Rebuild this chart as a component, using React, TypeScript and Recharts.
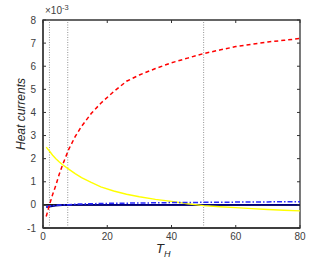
import { LineChart, Line, XAxis, YAxis, ReferenceLine, ReferenceArea } from 'recharts'

const tH = [1, 2, 3, 4, 5, 6, 8, 10, 12, 15, 18, 22, 26, 30, 35, 40, 45, 50, 55, 60, 65, 70, 75, 80]
const redCurrent = [-0.5, 0.0, 0.45, 0.85, 1.3, 1.7, 2.4, 2.95, 3.4, 3.95, 4.4, 4.9, 5.35, 5.62, 5.9, 6.15, 6.35, 6.55, 6.7, 6.85, 6.95, 7.05, 7.12, 7.2]
const yellowCurrent = [2.5, 2.33, 2.15, 2.0, 1.87, 1.75, 1.55, 1.35, 1.18, 0.97, 0.78, 0.6, 0.46, 0.35, 0.24, 0.15, 0.05, -0.03, -0.08, -0.12, -0.16, -0.2, -0.23, -0.26]
const blueCurrent = [-0.08, -0.05, -0.03, -0.02, -0.01, 0.0, 0.01, 0.03, 0.04, 0.05, 0.06, 0.07, 0.075, 0.08, 0.09, 0.1, 0.105, 0.11, 0.115, 0.12, 0.125, 0.13, 0.135, 0.14]
const navyCurrent = [-0.1, -0.07, -0.05, -0.03, -0.02, -0.01, 0, 0, 0, 0, 0, 0, 0, 0, 0, 0, 0, 0, 0, 0, 0, 0, 0, 0]
const xTicks = [0, 20, 40, 60, 80]
const yTicks = [-1, 0, 1, 2, 3, 4, 5, 6, 7, 8]
const markers = [2, 7.7, 50]

const data = tH.map((t, i) => ({
  t,
  red: redCurrent[i],
  yellow: yellowCurrent[i],
  blue: blueCurrent[i],
  navy: navyCurrent[i],
}))

const W = 332
const H = 261
const M = { top: 20, right: 32, left: 43, bottom: 33 }
const plotW = W - M.left - M.right
const plotH = H - M.top - M.bottom
const font = '"Liberation Sans", Arial, sans-serif'
const axisColor = '#333'

function XTick(props: any) {
  const { x, y, payload } = props
  return (
    <g>
      <line x1={x} y1={y} x2={x} y2={y - 3} stroke={axisColor} />
      <line x1={x} y1={y - plotH} x2={x} y2={y - plotH + 3} stroke={axisColor} />
      <text x={x} y={y + 12} textAnchor="middle" fontSize={10} fill="#404040" fontFamily={font}>
        {payload.value}
      </text>
    </g>
  )
}

function YTick(props: any) {
  const { x, y, payload } = props
  return (
    <g>
      <line x1={x} y1={y} x2={x + 3} y2={y} stroke={axisColor} />
      <line x1={x + plotW} y1={y} x2={x + plotW - 3} y2={y} stroke={axisColor} />
      <text x={x - 7} y={y + 3.5} textAnchor="end" fontSize={10} fill="#404040" fontFamily={font}>
        {payload.value}
      </text>
    </g>
  )
}

export default function App() {
  return (
    <div style={{ position: 'absolute', left: 0, top: 0, width: W, height: H, background: '#fff' }}>
      <LineChart width={W} height={H} data={data} margin={{ top: M.top, right: M.right, left: 0, bottom: 0 }}>
        <XAxis
          dataKey="t"
          type="number"
          domain={[0, 80]}
          ticks={xTicks}
          height={M.bottom}
          tickSize={0}
          tickMargin={0}
          tick={<XTick />}
          axisLine={{ stroke: axisColor, strokeWidth: 1.3 }}
        />
        <YAxis
          type="number"
          domain={[-1, 8]}
          ticks={yTicks}
          width={M.left}
          tickSize={0}
          tickMargin={0}
          tick={<YTick />}
          axisLine={{ stroke: axisColor, strokeWidth: 1.3 }}
        />
        <ReferenceArea x1={0} x2={80} y1={-1} y2={8} fill="none" stroke={axisColor} strokeWidth={1.3} />
        {markers.map((m) => (
          <ReferenceLine key={m} x={m} stroke="#777" strokeWidth={0.8} strokeDasharray="1 1.5" />
        ))}
        <ReferenceLine y={0} stroke="#1a1a1a" strokeWidth={1.8} />
        <Line dataKey="navy" stroke="#000080" strokeWidth={1.8} dot={false} isAnimationActive={false} />
        <Line dataKey="yellow" stroke="#ffff00" strokeWidth={1.4} dot={false} isAnimationActive={false} />
        <Line dataKey="blue" stroke="#2a2aff" strokeWidth={1.5} strokeDasharray="5 2 1.5 2" dot={false} isAnimationActive={false} />
        <Line dataKey="red" stroke="#ff0000" strokeWidth={1.5} strokeDasharray="4 3" dot={false} isAnimationActive={false} />
        <text x={45} y={14} fontSize={10} fill="#404040" fontFamily={font}>
          ×10<tspan dy={-4} fontSize={7.5}>-3</tspan>
        </text>
        <text
          x={25}
          y={114}
          transform="rotate(-90 25 114)"
          textAnchor="middle"
          fontSize={12}
          fontStyle="italic"
          fill="#262626"
          fontFamily={font}
        >
          Heat currents
        </text>
        <text x={156} y={253} fontSize={13} fontStyle="italic" fill="#262626" fontFamily={font}>
          T<tspan dy={4} fontSize={9}>H</tspan>
        </text>
      </LineChart>
    </div>
  )
}
